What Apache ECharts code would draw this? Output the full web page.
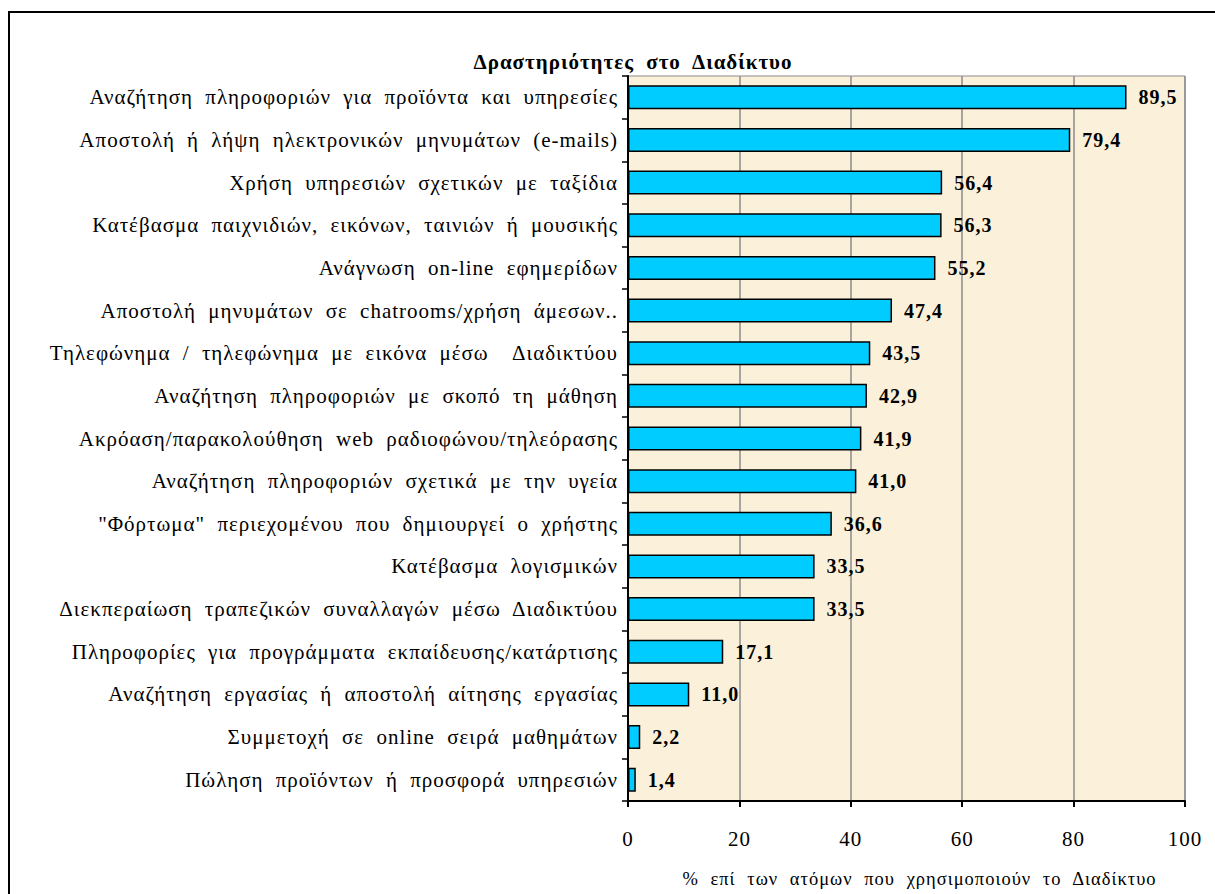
<!DOCTYPE html>
<html>
<head>
<meta charset="utf-8">
<script src="https://cdn.jsdelivr.net/npm/echarts@6/dist/echarts.min.js"></script>
<style>
  html, body { margin: 0; padding: 0; background: #fff; }
  #main { width: 1215px; height: 894px; }
  /* the original print spreads its letters and words out */
  #main svg text {
    font-family: "Liberation Serif", "DejaVu Serif", serif !important;
    letter-spacing: 1px; word-spacing: 6px;
  }
</style>
</head>
<body>
<div id="main"></div>
<script>
// data, top bar first
const categories = [
  "Αναζήτηση πληροφοριών για προϊόντα και υπηρεσίες",
  "Αποστολή ή λήψη ηλεκτρονικών μηνυμάτων (e-mails)",
  "Χρήση υπηρεσιών σχετικών με ταξίδια",
  "Κατέβασμα παιχνιδιών, εικόνων, ταινιών ή μουσικής",
  "Ανάγνωση on-line εφημερίδων",
  "Αποστολή μηνυμάτων σε chatrooms/χρήση άμεσων..",
  "Τηλεφώνημα / τηλεφώνημα με εικόνα μέσω  Διαδικτύου",
  "Αναζήτηση πληροφοριών με σκοπό τη μάθηση",
  "Ακρόαση/παρακολούθηση web ραδιοφώνου/τηλεόρασης",
  "Αναζήτηση πληροφοριών σχετικά με την υγεία",
  "\"Φόρτωμα\" περιεχομένου που δημιουργεί ο χρήστης",
  "Κατέβασμα λογισμικών",
  "Διεκπεραίωση τραπεζικών συναλλαγών μέσω Διαδικτύου",
  "Πληροφορίες για προγράμματα εκπαίδευσης/κατάρτισης",
  "Αναζήτηση εργασίας ή αποστολή αίτησης εργασίας",
  "Συμμετοχή σε online σειρά μαθημάτων",
  "Πώληση προϊόντων ή προσφορά υπηρεσιών"
];
const values = [89.5, 79.4, 56.4, 56.3, 55.2, 47.4, 43.5, 42.9, 41.9, 41.0, 36.6, 33.5, 33.5, 17.1, 11.0, 2.2, 1.4];
const xTicks = [0, 20, 40, 60, 80, 100];

const serif = "Liberation Serif";

const chart = echarts.init(document.getElementById("main"), null, { renderer: "svg" });
chart.setOption({
  animation: false,
  backgroundColor: "#ffffff",
  title: {
    text: "Δραστηριότητες στο Διαδίκτυο",
    left: 628, top: 46, textAlign: "center",
    textStyle: { fontFamily: serif, fontSize: 21, fontWeight: "bold", color: "#000" }
  },
  graphic: [{
    type: "rect",
    shape: { x: 9, y: 12, width: 1400, height: 1000 },
    style: { fill: "none", stroke: "#000", lineWidth: 2 },
    z: 100
  }],
  grid: {
    left: 628, top: 76, right: 30, bottom: 93,
    outerBoundsMode: "none",
    show: true, backgroundColor: "#fbf0da",
    borderColor: "#8c8c8c", borderWidth: 1
  },
  xAxis: {
    type: "value", min: 0, max: 100, interval: 20,
    name: "% επί των ατόμων που χρησιμοποιούν το Διαδίκτυο",
    nameLocation: "middle", nameGap: 68,
    nameTextStyle: { fontFamily: serif, fontSize: 18.5, color: "#000", padding: [0, 0, 0, 26] },
    axisLine: { show: true, lineStyle: { color: "#000", width: 2 } },
    axisTick: { show: true, length: 6, lineStyle: { color: "#000", width: 2 } },
    axisLabel: {
      fontFamily: serif, fontSize: 21, color: "#000", margin: 27,
      formatter: v => xTicks.includes(v) ? String(v) : ""
    },
    splitLine: { show: true, lineStyle: { color: "#8c8c8c", width: 1.5 } }
  },
  yAxis: {
    type: "category", inverse: true, data: categories,
    axisLine: { show: true, lineStyle: { color: "#000", width: 2 } },
    axisTick: { show: true, length: 6, lineStyle: { color: "#000", width: 1.5 } },
    axisLabel: { fontFamily: serif, fontSize: 21, color: "#000", margin: 10 },
    splitLine: { show: false }
  },
  series: [{
    type: "bar", data: values, barWidth: 24,
    itemStyle: { color: "#00ccff", borderColor: "#000", borderWidth: 1.5 },
    label: {
      show: true, position: "right", distance: 12,
      fontFamily: serif, fontSize: 20, fontWeight: "bold", color: "#000",
      formatter: p => p.value.toFixed(1).replace(".", ",")
    }
  }]
});
</script>
</body>
</html>
